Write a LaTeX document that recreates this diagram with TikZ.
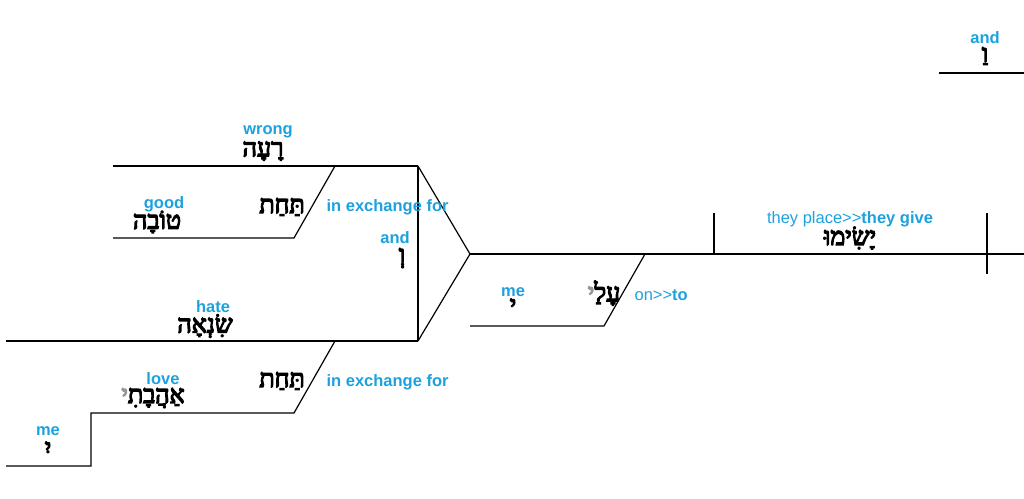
\documentclass[tikz,border=0pt]{standalone}
\usepackage{fontspec}
\setmainfont{Liberation Sans}
\newfontfamily\heb[Script=Hebrew,FakeBold=5]{Liberation Serif}
\TeXXeTstate=1
\definecolor{lblue}{RGB}{29,161,222}
\definecolor{sgray}{RGB}{150,150,150}
\begin{document}
\begin{tikzpicture}[x=1pt,y=-1pt,line width=1.2pt,
  en/.style={text=lblue,font=\fontsize{16.5}{18}\selectfont\bfseries,inner sep=0pt},
  enr/.style={text=lblue,font=\fontsize{16.5}{18}\selectfont,inner sep=0pt},
  hb/.style={font=\heb\fontsize{25}{28}\selectfont,inner sep=0pt}]
\useasboundingbox (0,0) rectangle (1024,498);
% coordinates
\coordinate (tr1) at (939,73); \coordinate (tr2) at (1024,73);
\coordinate (m0) at (470,254); \coordinate (m1) at (1024,254);
\coordinate (d1a) at (714,213); \coordinate (d1b) at (714,254);
\coordinate (d2a) at (987,213); \coordinate (d2b) at (987,274);
\coordinate (ft) at (418,166); \coordinate (fb) at (418,341);
\coordinate (a0) at (113,166);
\coordinate (s1a) at (335,166); \coordinate (s1b) at (294,238); \coordinate (a1) at (113,238);
\coordinate (b0) at (6,341);
\coordinate (s2a) at (335,341); \coordinate (s2b) at (294,413);
\coordinate (b1) at (91,413); \coordinate (b2) at (91,466); \coordinate (b3) at (6,466);
\coordinate (s3a) at (645,254); \coordinate (s3b) at (604,326); \coordinate (c0) at (470,326);
% lines
\draw (tr1) -- (tr2);
\draw (m0) -- (m1);
\draw (d1a) -- (d1b);
\draw (d2a) -- (d2b);
\draw (ft) -- (m0) -- (fb);
\draw (ft) -- (fb);
\draw (a0) -- (ft);
\draw (s1a) -- (s1b) -- (a1);
\draw (b0) -- (fb);
\draw (s2a) -- (s2b) -- (b1) -- (b2) -- (b3);
\draw (s3a) -- (s3b) -- (c0);
% texts
\node[en] (t1) at (985,38) {and};
\node[hb] (h1) at (985,56) {\beginR וַ\endR};
\node[enr] (t2) at (850,219) {they place>\kern0pt>\textbf{they give}};
\node[hb] (h2) at (850,238) {\beginR יָשִׂימוּ\endR};
\node[en] (t3) at (513,292) {me};
\node[hb] (h3) at (513,306) {\beginR י\endR};
\node[hb] (h4) at (604,293) {\textcolor{sgray}{\beginR י\endR}\beginR עָלַ\endR};
\node[enr,anchor=west] (t4) at (634,295) {on>\kern0pt>\textbf{to}};
\node[en] (t5) at (268,132) {wrong};
\node[hb] (h5) at (263,151) {\beginR רָעָה\endR};
\node[en] (t6) at (164,204) {good};
\node[hb] (h6) at (157,222) {\beginR טוֹבָה\endR};
\node[hb] (h7) at (282,207) {\beginR תַּחַת\endR};
\node[en,anchor=west] (t7) at (326,207) {in exchange for};
\node[en] (t8) at (395,238) {and};
\node[hb] (h8) at (402,258) {\beginR וְ\endR};
\node[en] (t9) at (213,307) {hate};
\node[hb] (h9) at (205,326) {\beginR שִׂנְאָה\endR};
\node[en] (t10) at (163,379) {love};
\node[hb] (h10) at (153,398) {\textcolor{sgray}{\beginR י\endR}\beginR אַהֲבָתִ\endR};
\node[hb] (h11) at (282,381) {\beginR תַּחַת\endR};
\node[en,anchor=west] (t11) at (326,382) {in exchange for};
\node[en] (t12) at (48,431) {me};
\node[hb] (h12) at (48,449) {\beginR יִ\endR};
\end{tikzpicture}
\end{document}
